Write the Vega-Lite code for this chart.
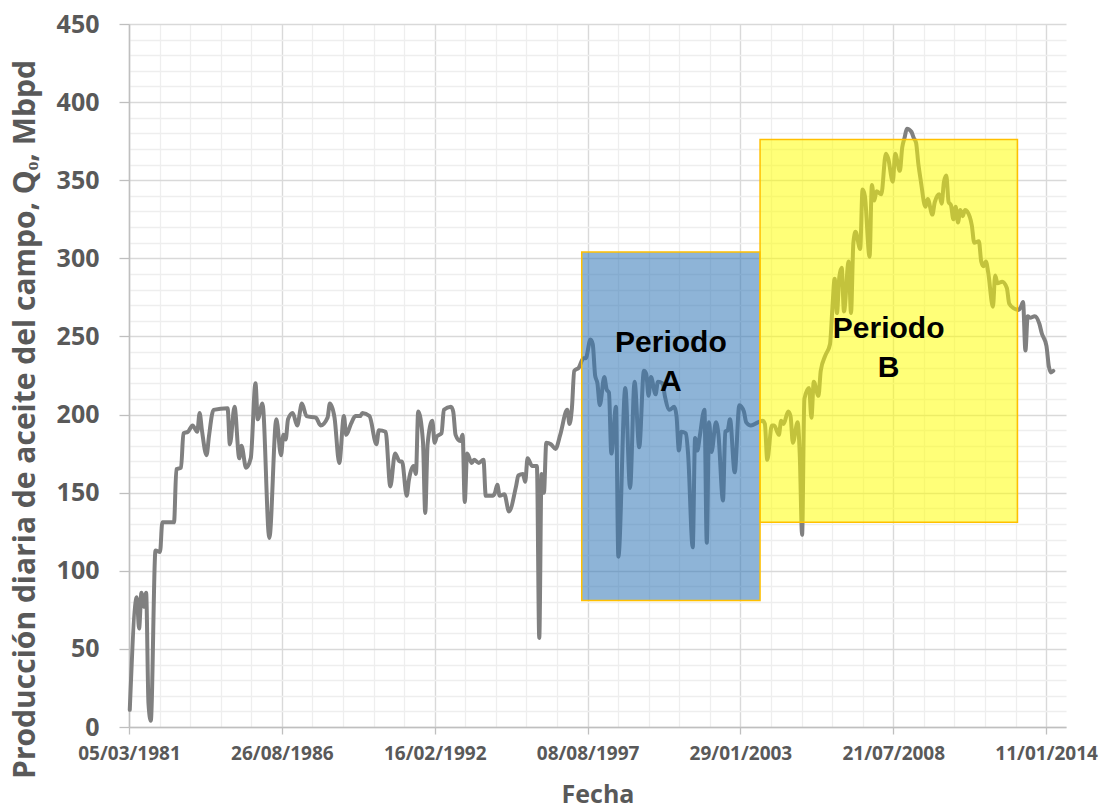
{
  "$schema": "https://vega.github.io/schema/vega-lite/v6.json",
  "width": 937,
  "height": 703,
  "autosize": {"type": "none"},
  "padding": {"left": 129, "top": 24, "right": 38, "bottom": 82},
  "background": "white",
  "config": {"view": {"stroke": null}},
  "resolve": {"axis": {"x": "independent", "y": "independent"}},
  "layer": [
    {
      "data": {"values": [
        {"fecha":"1981-03-15","q":11},{"fecha":"1981-06-15","q":83},{"fecha":"1981-07-15","q":63},{"fecha":"1981-08-15","q":86},{"fecha":"1981-09-15","q":77},{"fecha":"1981-10-15","q":86},{"fecha":"1981-11-15","q":15},{"fecha":"1981-12-15","q":4},
        {"fecha":"1982-02-15","q":113},{"fecha":"1982-04-15","q":112},{"fecha":"1982-05-15","q":131},{"fecha":"1982-10-15","q":131},{"fecha":"1982-11-15","q":165},
        {"fecha":"1983-01-15","q":166},{"fecha":"1983-02-15","q":188},{"fecha":"1983-04-15","q":189},{"fecha":"1983-06-15","q":193},{"fecha":"1983-08-15","q":189},{"fecha":"1983-09-15","q":201},{"fecha":"1983-10-15","q":190},{"fecha":"1983-12-15","q":174},
        {"fecha":"1984-01-15","q":186},{"fecha":"1984-03-15","q":203},{"fecha":"1984-09-15","q":204},{"fecha":"1984-10-15","q":181},{"fecha":"1984-12-15","q":205},
        {"fecha":"1985-02-15","q":172},{"fecha":"1985-03-15","q":180},{"fecha":"1985-05-15","q":166},{"fecha":"1985-07-15","q":172},{"fecha":"1985-09-15","q":220},{"fecha":"1985-10-15","q":197},{"fecha":"1985-12-15","q":207},
        {"fecha":"1986-03-15","q":121},{"fecha":"1986-06-15","q":197},{"fecha":"1986-08-15","q":174},{"fecha":"1986-09-15","q":187},{"fecha":"1986-10-15","q":184},{"fecha":"1986-11-15","q":197},
        {"fecha":"1987-01-15","q":201},{"fecha":"1987-03-15","q":193},{"fecha":"1987-05-15","q":207},{"fecha":"1987-07-15","q":199},{"fecha":"1987-11-15","q":198},
        {"fecha":"1988-01-15","q":193},{"fecha":"1988-04-15","q":198},{"fecha":"1988-05-15","q":207},{"fecha":"1988-07-15","q":198},{"fecha":"1988-09-15","q":169},{"fecha":"1988-11-15","q":199},{"fecha":"1988-12-15","q":187},
        {"fecha":"1989-02-15","q":194},{"fecha":"1989-04-15","q":199},{"fecha":"1989-06-15","q":199},{"fecha":"1989-07-15","q":201},{"fecha":"1989-10-15","q":199},
        {"fecha":"1990-01-15","q":181},{"fecha":"1990-02-15","q":190},{"fecha":"1990-05-15","q":189},{"fecha":"1990-07-15","q":154},{"fecha":"1990-09-15","q":175},{"fecha":"1990-11-15","q":170},{"fecha":"1990-12-15","q":170},
        {"fecha":"1991-02-15","q":148},{"fecha":"1991-03-15","q":158},{"fecha":"1991-05-15","q":167},{"fecha":"1991-06-15","q":162},{"fecha":"1991-07-15","q":202},{"fecha":"1991-09-15","q":183},{"fecha":"1991-10-15","q":137},{"fecha":"1991-11-15","q":181},
        {"fecha":"1992-01-15","q":196},{"fecha":"1992-02-15","q":182},{"fecha":"1992-03-15","q":186},{"fecha":"1992-05-15","q":188},{"fecha":"1992-06-15","q":203},{"fecha":"1992-09-15","q":205},{"fecha":"1992-10-15","q":202},{"fecha":"1992-11-15","q":187},
        {"fecha":"1993-01-15","q":183},{"fecha":"1993-02-15","q":187},{"fecha":"1993-03-15","q":144},{"fecha":"1993-04-15","q":175},{"fecha":"1993-06-15","q":169},{"fecha":"1993-07-15","q":171},{"fecha":"1993-09-15","q":169},{"fecha":"1993-11-15","q":171},{"fecha":"1993-12-15","q":148},
        {"fecha":"1994-03-15","q":148},{"fecha":"1994-04-15","q":150},{"fecha":"1994-05-15","q":155},{"fecha":"1994-06-15","q":148},{"fecha":"1994-08-15","q":149},{"fecha":"1994-10-15","q":138},
        {"fecha":"1995-01-15","q":154},{"fecha":"1995-02-15","q":161},{"fecha":"1995-04-15","q":162},{"fecha":"1995-05-15","q":157},{"fecha":"1995-06-15","q":172},{"fecha":"1995-08-15","q":167},{"fecha":"1995-10-15","q":167},{"fecha":"1995-11-15","q":57},{"fecha":"1995-12-15","q":162},
        {"fecha":"1996-01-15","q":150},{"fecha":"1996-02-15","q":182},{"fecha":"1996-04-15","q":181},{"fecha":"1996-06-15","q":178},{"fecha":"1996-08-15","q":187},{"fecha":"1996-11-15","q":203},{"fecha":"1996-12-15","q":194},
        {"fecha":"1997-01-15","q":204},{"fecha":"1997-02-15","q":228},{"fecha":"1997-04-15","q":230},{"fecha":"1997-06-15","q":236},{"fecha":"1997-07-15","q":236},{"fecha":"1997-09-15","q":248},{"fecha":"1997-10-15","q":245},{"fecha":"1997-11-15","q":225},{"fecha":"1997-12-15","q":220},
        {"fecha":"1998-01-15","q":206},{"fecha":"1998-03-15","q":224},{"fecha":"1998-04-15","q":216},{"fecha":"1998-05-15","q":214},{"fecha":"1998-06-15","q":175},{"fecha":"1998-08-15","q":205},{"fecha":"1998-09-15","q":109},{"fecha":"1998-12-15","q":217},
        {"fecha":"1999-02-15","q":153},{"fecha":"1999-04-15","q":221},{"fecha":"1999-06-15","q":179},{"fecha":"1999-08-15","q":228},{"fecha":"1999-09-15","q":226},{"fecha":"1999-10-15","q":212},{"fecha":"1999-11-15","q":224},
        {"fecha":"2000-01-15","q":213},{"fecha":"2000-02-15","q":221},{"fecha":"2000-04-15","q":220},{"fecha":"2000-05-15","q":212},{"fecha":"2000-07-15","q":203},{"fecha":"2000-09-15","q":205},{"fecha":"2000-10-15","q":199},{"fecha":"2000-11-15","q":177},{"fecha":"2000-12-15","q":189},
        {"fecha":"2001-02-15","q":188},{"fecha":"2001-03-15","q":175},{"fecha":"2001-05-15","q":115},{"fecha":"2001-06-15","q":185},{"fecha":"2001-07-15","q":177},{"fecha":"2001-08-15","q":186},{"fecha":"2001-10-15","q":203},{"fecha":"2001-11-15","q":118},{"fecha":"2001-12-15","q":195},
        {"fecha":"2002-01-15","q":176},{"fecha":"2002-03-15","q":195},{"fecha":"2002-04-15","q":188},{"fecha":"2002-06-15","q":145},{"fecha":"2002-07-15","q":189},{"fecha":"2002-08-15","q":190},{"fecha":"2002-09-15","q":197},{"fecha":"2002-11-15","q":163},
        {"fecha":"2003-01-15","q":206},{"fecha":"2003-03-15","q":202},{"fecha":"2003-04-15","q":195},{"fecha":"2003-06-15","q":193},{"fecha":"2003-09-15","q":195},{"fecha":"2003-11-15","q":196},{"fecha":"2003-12-15","q":194},
        {"fecha":"2004-01-15","q":171},{"fecha":"2004-03-15","q":193},{"fecha":"2004-04-15","q":193},{"fecha":"2004-06-15","q":187},{"fecha":"2004-07-15","q":196},{"fecha":"2004-08-15","q":194},{"fecha":"2004-10-15","q":202},{"fecha":"2004-11-15","q":199},{"fecha":"2004-12-15","q":182},
        {"fecha":"2005-02-15","q":195},{"fecha":"2005-03-15","q":175},{"fecha":"2005-04-15","q":123},{"fecha":"2005-05-15","q":210},{"fecha":"2005-07-15","q":217},{"fecha":"2005-08-15","q":198},{"fecha":"2005-09-15","q":221},{"fecha":"2005-11-15","q":212},{"fecha":"2005-12-15","q":228},
        {"fecha":"2006-02-15","q":238},{"fecha":"2006-04-15","q":245},{"fecha":"2006-05-15","q":267},{"fecha":"2006-06-15","q":287},{"fecha":"2006-07-15","q":265},{"fecha":"2006-08-15","q":288},{"fecha":"2006-09-15","q":294},{"fecha":"2006-10-15","q":266},{"fecha":"2006-12-15","q":298},
        {"fecha":"2007-01-15","q":265},{"fecha":"2007-02-15","q":310},{"fecha":"2007-03-15","q":317},{"fecha":"2007-05-15","q":306},{"fecha":"2007-06-15","q":344},{"fecha":"2007-07-15","q":340},{"fecha":"2007-09-15","q":301},{"fecha":"2007-10-15","q":347},{"fecha":"2007-11-15","q":337},{"fecha":"2007-12-15","q":343},
        {"fecha":"2008-02-15","q":341},{"fecha":"2008-04-15","q":367},{"fecha":"2008-05-15","q":364},{"fecha":"2008-07-15","q":349},{"fecha":"2008-08-15","q":367},{"fecha":"2008-10-15","q":356},{"fecha":"2008-11-15","q":371},{"fecha":"2008-12-15","q":377},
        {"fecha":"2009-01-15","q":383},{"fecha":"2009-03-15","q":381},{"fecha":"2009-04-15","q":377},{"fecha":"2009-05-15","q":374},{"fecha":"2009-06-15","q":360},{"fecha":"2009-07-15","q":350},{"fecha":"2009-09-15","q":333},{"fecha":"2009-10-15","q":338},{"fecha":"2009-12-15","q":328},
        {"fecha":"2010-01-15","q":336},{"fecha":"2010-03-15","q":341},{"fecha":"2010-04-15","q":335},{"fecha":"2010-05-15","q":349},{"fecha":"2010-06-15","q":353},{"fecha":"2010-07-15","q":336},{"fecha":"2010-08-15","q":334},{"fecha":"2010-09-15","q":325},{"fecha":"2010-10-15","q":333},{"fecha":"2010-11-15","q":323},{"fecha":"2010-12-15","q":331},
        {"fecha":"2011-01-15","q":327},{"fecha":"2011-02-15","q":331},{"fecha":"2011-03-15","q":330},{"fecha":"2011-05-15","q":321},{"fecha":"2011-06-15","q":310},{"fecha":"2011-08-15","q":311},{"fecha":"2011-09-15","q":298},{"fecha":"2011-10-15","q":295},{"fecha":"2011-11-15","q":298},{"fecha":"2011-12-15","q":291},
        {"fecha":"2012-02-15","q":269},{"fecha":"2012-03-15","q":289},{"fecha":"2012-04-15","q":284},{"fecha":"2012-06-15","q":285},{"fecha":"2012-08-15","q":281},{"fecha":"2012-09-15","q":271},{"fecha":"2012-11-15","q":268},
        {"fecha":"2013-01-15","q":267},{"fecha":"2013-02-15","q":269},{"fecha":"2013-03-15","q":272},{"fecha":"2013-04-15","q":241},{"fecha":"2013-05-15","q":263},{"fecha":"2013-06-15","q":262},{"fecha":"2013-08-15","q":263},{"fecha":"2013-10-15","q":258},{"fecha":"2013-11-15","q":252},
        {"fecha":"2014-01-15","q":244},{"fecha":"2014-02-15","q":231},{"fecha":"2014-03-15","q":227},{"fecha":"2014-04-15","q":228}
      ]},
      "mark": {"type": "line", "color": "#808080", "strokeWidth": 4, "interpolate": "monotone", "strokeJoin": "round", "strokeCap": "round"},
      "encoding": {
        "x": {
          "field": "fecha", "type": "temporal",
          "scale": {"type": "utc", "domain": [{"year":1981,"month":3,"date":5,"utc":true},{"year":2014,"month":9,"date":28,"utc":true}]},
          "axis": {
            "orient": "top", "grid": true, "gridColor": "#eeeeee", "gridWidth": 1.3,
            "ticks": false, "labels": false, "domain": false, "title": null,
            "values": [
              {"year":1981,"month":3,"date":5,"utc":true},{"year":1982,"month":4,"date":9,"utc":true},{"year":1983,"month":5,"date":14,"utc":true},{"year":1984,"month":6,"date":17,"utc":true},{"year":1985,"month":7,"date":22,"utc":true},
              {"year":1986,"month":8,"date":26,"utc":true},{"year":1987,"month":9,"date":30,"utc":true},{"year":1988,"month":11,"date":3,"utc":true},{"year":1989,"month":12,"date":8,"utc":true},{"year":1991,"month":1,"date":12,"utc":true},
              {"year":1992,"month":2,"date":16,"utc":true},{"year":1993,"month":3,"date":22,"utc":true},{"year":1994,"month":4,"date":26,"utc":true},{"year":1995,"month":5,"date":31,"utc":true},{"year":1996,"month":7,"date":4,"utc":true},
              {"year":1997,"month":8,"date":8,"utc":true},{"year":1998,"month":9,"date":12,"utc":true},{"year":1999,"month":10,"date":17,"utc":true},{"year":2000,"month":11,"date":20,"utc":true},{"year":2001,"month":12,"date":25,"utc":true},
              {"year":2003,"month":1,"date":29,"utc":true},{"year":2004,"month":3,"date":4,"utc":true},{"year":2005,"month":4,"date":8,"utc":true},{"year":2006,"month":5,"date":13,"utc":true},{"year":2007,"month":6,"date":17,"utc":true},
              {"year":2008,"month":7,"date":21,"utc":true},{"year":2009,"month":8,"date":25,"utc":true},{"year":2010,"month":9,"date":29,"utc":true},{"year":2011,"month":11,"date":3,"utc":true},{"year":2012,"month":12,"date":7,"utc":true},
              {"year":2014,"month":1,"date":11,"utc":true}
            ]
          }
        },
        "y": {
          "field": "q", "type": "quantitative",
          "scale": {"domain": [0, 450], "nice": false, "zero": true},
          "axis": {
            "orient": "right", "grid": true, "gridColor": "#eeeeee", "gridWidth": 1.3,
            "ticks": false, "labels": false, "domain": false, "title": null,
            "values": [10,20,30,40,60,70,80,90,110,120,130,140,160,170,180,190,210,220,230,240,260,270,280,290,310,320,330,340,360,370,380,390,410,420,430,440]
          }
        }
      }
    },
    {
      "data": {"values": [
        {"periodo": "A", "inicio": "1997-05-24", "fin": "2003-10-13", "qmin": 81, "qmax": 304},
        {"periodo": "B", "inicio": "2003-10-13", "fin": "2013-01-01", "qmin": 131, "qmax": 376}
      ]},
      "mark": {"type": "rect", "stroke": "#FFC000", "strokeWidth": 1.5},
      "encoding": {
        "x": {
          "field": "inicio", "type": "temporal",
          "axis": {
            "orient": "bottom",
            "values": [
              {"year":1981,"month":3,"date":5,"utc":true},{"year":1986,"month":8,"date":26,"utc":true},{"year":1992,"month":2,"date":16,"utc":true},{"year":1997,"month":8,"date":8,"utc":true},
              {"year":2003,"month":1,"date":29,"utc":true},{"year":2008,"month":7,"date":21,"utc":true},{"year":2014,"month":1,"date":11,"utc":true}
            ],
            "format": "%d/%m/%Y",
            "grid": true, "gridColor": "#d9d9d9", "gridWidth": 1.3,
            "domainColor": "#bfbfbf", "domainWidth": 1.5,
            "tickColor": "#bfbfbf", "tickSize": 7, "tickWidth": 1.3,
            "labelFont": "Open Sans", "labelFontWeight": "bold", "labelFontSize": 19, "labelColor": "#595959",
            "labelPadding": 10, "labelOverlap": false, "labelFlush": false,
            "title": "Fecha", "titleFont": "Open Sans", "titleFontWeight": "bold", "titleFontSize": 25, "titleColor": "#595959",
            "titleY": 75, "titleBaseline": "alphabetic"
          }
        },
        "x2": {"field": "fin"},
        "y": {
          "field": "qmin", "type": "quantitative",
          "axis": {
            "orient": "left",
            "values": [0,50,100,150,200,250,300,350,400,450],
            "grid": true, "gridColor": "#d9d9d9", "gridWidth": 1.3,
            "domainColor": "#bfbfbf", "domainWidth": 1.5,
            "tickColor": "#bfbfbf", "tickSize": 10, "tickWidth": 1.3,
            "labelFont": "Open Sans", "labelFontWeight": "bold", "labelFontSize": 25, "labelColor": "#595959",
            "labelPadding": 20,
            "title": "Producción diaria de aceite del campo, Qₒ, Mbpd",
            "titleFont": "Open Sans", "titleFontWeight": "bold", "titleFontSize": 30, "titleColor": "#595959",
            "titleX": -95, "titleY": 395, "titleBaseline": "alphabetic", "titleAngle": -90
          }
        },
        "y2": {"field": "qmax"},
        "fill": {"field": "periodo", "type": "nominal", "scale": {"domain": ["A", "B"], "range": ["#2E75B6", "#FFFF00"]}, "legend": null},
        "fillOpacity": {"field": "periodo", "type": "nominal", "scale": {"domain": ["A", "B"], "range": [0.54, 0.53]}, "legend": null}
      }
    },
    {
      "data": {"values": [
        {"periodo": "A", "fecha": "2000-08-02", "q": 246, "texto": "Periodo\nA"},
        {"periodo": "B", "fecha": "2008-05-22", "q": 255, "texto": "Periodo\nB"}
      ]},
      "mark": {"type": "text", "font": "Liberation Sans", "fontWeight": "bold", "fontSize": 30, "color": "#000000", "align": "center", "baseline": "middle", "lineBreak": "\n", "lineHeight": 39},
      "encoding": {
        "x": {"field": "fecha", "type": "temporal", "axis": null},
        "y": {"field": "q", "type": "quantitative", "axis": null},
        "text": {"field": "texto"}
      }
    }
  ]
}
